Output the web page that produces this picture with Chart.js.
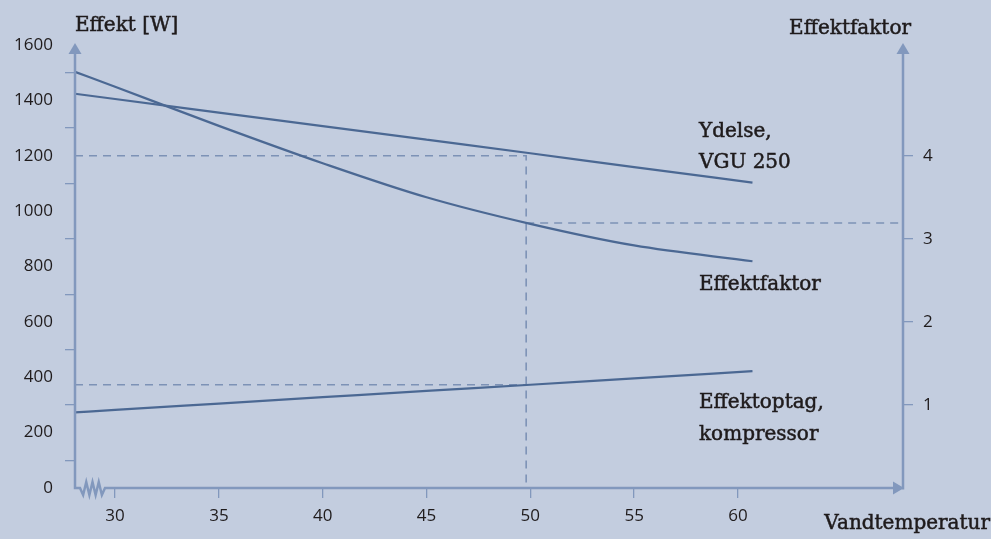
<!DOCTYPE html>
<html>
<head>
<meta charset="utf-8">
<script src="https://cdn.jsdelivr.net/npm/chart.js@4/dist/chart.umd.min.js"></script>
<style>
  html, body { margin: 0; padding: 0; background: #c3cddf; }
  #wrap { width: 991px; height: 539px; }
</style>
</head>
<body>
<div id="wrap"><canvas id="c" width="991" height="539"></canvas></div>
<script>
// ---- data ----
const temps        = [28.07, 30, 35, 40, 45, 50, 55, 60.7];
const ydelse       = [1424, 1405, 1356, 1307, 1258, 1209, 1159, 1103];   // W
const effektfaktor = [5.01, 4.83, 4.36, 3.91, 3.50, 3.18, 2.92, 2.73];   // COP (right axis)
const effektoptag  = [273, 282, 305, 328, 351, 373, 396, 422];          // W

const refTemp    = 49.8;
const refYdelse  = 1200;
const refOptag   = 373;
const refCop     = 3.19;

const xMin = 28.07, xMax = 67.95;
const xTicks  = [30, 35, 40, 45, 50, 55, 60];
const yTicks  = [0, 100, 200, 300, 400, 500, 600, 700, 800, 900, 1000, 1100, 1200, 1300, 1400, 1500, 1600];
const yLabels = [0, 200, 400, 600, 800, 1000, 1200, 1400, 1600];
const y2Ticks = [1, 2, 3, 4];

// ---- styles ----
const BG = '#c3cddf';
const LINE = '#4b6893';
const AXIS = '#8298bd';
const DASH = '#7d92b6';
const TEXT = '#1f1b1c';
const TICKFONT = { family: 'Open Sans', size: 17 };
const LABELFONT = '20px "DejaVu Serif", serif';

const pts = (xs, ys) => xs.map((x, i) => ({ x, y: ys[i] }));

const deco = {
  id: 'deco',
  beforeDraw(chart) {
    const ctx = chart.ctx;
    ctx.save();
    ctx.fillStyle = BG;
    ctx.fillRect(0, 0, chart.width, chart.height);
    ctx.restore();
  },
  afterDraw(chart) {
    const ctx = chart.ctx;
    const a = chart.chartArea;
    const L = a.left, R = a.right, T = a.top, B = a.bottom;
    ctx.save();
    ctx.strokeStyle = AXIS;
    ctx.fillStyle = AXIS;
    ctx.lineWidth = 2.5;
    ctx.lineJoin = 'miter';
    // left axis + bottom axis with break
    ctx.beginPath();
    ctx.moveTo(L, T + 8);
    ctx.lineTo(L, B);
    ctx.lineTo(L + 5, B);
    const zx0 = L + 5, zx1 = L + 30;
    const n = 8;
    for (let i = 1; i <= n; i++) {
      const x = zx0 + (zx1 - zx0) * i / n;
      const y = (i === n) ? B : (i % 2 === 1 ? B + 7 : B - 6);
      ctx.lineTo(x, y);
    }
    ctx.lineTo(R - 9, B);
    ctx.stroke();
    // right axis
    ctx.beginPath();
    ctx.moveTo(R, T + 8);
    ctx.lineTo(R, B + 1.5);
    ctx.stroke();
    // arrowheads
    const up = (x) => { ctx.beginPath(); ctx.moveTo(x, T - 2); ctx.lineTo(x - 6.5, T + 9); ctx.lineTo(x + 6.5, T + 9); ctx.closePath(); ctx.fill(); };
    up(L); up(R);
    ctx.beginPath();
    ctx.moveTo(R + 1, B);
    ctx.lineTo(R - 10, B - 6.5);
    ctx.lineTo(R - 10, B + 6.5);
    ctx.closePath();
    ctx.fill();

    // texts
    ctx.fillStyle = TEXT;
    ctx.strokeStyle = TEXT;
    ctx.lineWidth = 0.5;
    ctx.font = LABELFONT;
    ctx.textBaseline = 'middle';
    const put = (s, x, y, al) => { ctx.textAlign = al; ctx.fillText(s, x, y); ctx.strokeText(s, x, y); };
    put('Effekt [W]', L, 26, 'left');
    put('Effektfaktor', R + 8, 29, 'right');
    put('Vandtemperatur', chart.width - 1, 524, 'right');
    const tx = 699;
    put('Ydelse,', tx, 132, 'left');
    put('VGU 250', tx, 163, 'left');
    put('Effektfaktor', tx, 285, 'left');
    put('Effektoptag,', tx, 403, 'left');
    put('kompressor', tx, 435, 'left');
    ctx.restore();
  }
};

const dashed = { borderColor: DASH, borderWidth: 1.6, borderDash: [8, 6], pointRadius: 0, fill: false, tension: 0 };

new Chart(document.getElementById('c'), {
  type: 'line',
  data: {
    datasets: [
      { label: 'Ydelse, VGU 250', data: pts(temps, ydelse), yAxisID: 'y',
        borderColor: LINE, borderWidth: 2.2, pointRadius: 0, cubicInterpolationMode: 'monotone' },
      { label: 'Effektfaktor', data: pts(temps, effektfaktor), yAxisID: 'y2',
        borderColor: LINE, borderWidth: 2.2, pointRadius: 0, cubicInterpolationMode: 'monotone' },
      { label: 'Effektoptag, kompressor', data: pts(temps, effektoptag), yAxisID: 'y',
        borderColor: LINE, borderWidth: 2.2, pointRadius: 0, cubicInterpolationMode: 'monotone' },
      Object.assign({ label: 'ref1', yAxisID: 'y',
        data: [{ x: xMin, y: refYdelse }, { x: refTemp, y: refYdelse }, { x: refTemp, y: 0 }] }, dashed),
      Object.assign({ label: 'ref2', yAxisID: 'y',
        data: [{ x: xMin, y: refOptag }, { x: refTemp, y: refOptag }] }, dashed),
      Object.assign({ label: 'ref3', yAxisID: 'y2',
        data: [{ x: refTemp, y: refCop }, { x: xMax, y: refCop }] }, dashed)
    ]
  },
  options: {
    responsive: false,
    animation: false,
    devicePixelRatio: 1,
    clip: false,
    layout: { padding: { top: 45, left: 0, right: 0, bottom: 0 } },
    plugins: { legend: { display: false }, tooltip: { enabled: false } },
    scales: {
      x: {
        type: 'linear', min: xMin, max: xMax,
        afterBuildTicks: s => { s.ticks = xTicks.map(v => ({ value: v })); },
        afterFit: s => { s.height = 51; },
        border: { display: false },
        grid: { drawOnChartArea: false, drawTicks: true, tickLength: 10, color: AXIS, lineWidth: 1.3 },
        ticks: { color: TEXT, font: TICKFONT, padding: 8, autoSkip: false, maxRotation: 0 }
      },
      y: {
        type: 'linear', position: 'left', min: 0, max: 1600,
        afterBuildTicks: s => { s.ticks = yTicks.map(v => ({ value: v })); },
        afterFit: s => { s.width = 75; },
        border: { display: false },
        grid: { drawOnChartArea: false, drawTicks: true, tickLength: 10, lineWidth: 1.3,
          color: c => (c.tick && c.tick.value % 200 === 100) ? AXIS : 'rgba(0,0,0,0)' },
        ticks: { color: TEXT, font: TICKFONT, padding: 12, autoSkip: false,
          callback: v => yLabels.includes(v) ? String(v) : '' }
      },
      y2: {
        type: 'linear', position: 'right', min: 0, max: 1600 / 300,
        afterBuildTicks: s => { s.ticks = y2Ticks.map(v => ({ value: v })); },
        afterFit: s => { s.width = 88; },
        border: { display: false },
        grid: { drawOnChartArea: false, drawTicks: true, tickLength: 10, color: AXIS, lineWidth: 1.3 },
        ticks: { color: TEXT, font: TICKFONT, padding: 10, autoSkip: false, callback: v => String(v) }
      }
    }
  },
  plugins: [deco]
});
</script>
</body>
</html>
